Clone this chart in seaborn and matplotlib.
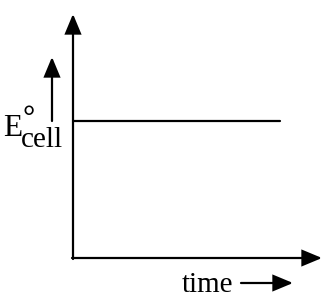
import matplotlib
matplotlib.use("Agg")
import matplotlib.pyplot as plt
from matplotlib.patches import FancyArrowPatch
import seaborn as sns
import pandas as pd

# Data: constant E°cell over time
time_vals = [0.0, 8.3]
ecell_vals = [5.6, 5.6]
x_label = "time"
y_label_main = "E"
y_label_sup = "°"
y_label_sub = "cell"

sns.set_theme(style="white")
plt.rcParams['font.family'] = ['Liberation Serif', 'DejaVu Serif']

W, H = 332, 301
fig = plt.figure(figsize=(W / 100, H / 100), dpi=100)
fig.patch.set_facecolor("white")

x0, y0 = 73, 258      # origin pixel
xr, yt = 322, 14      # arrow tips
ax = fig.add_axes([x0 / W, 1 - y0 / H, (xr - x0) / W, (y0 - yt) / H])
ax.set_xlim(0, 10)
ax.set_ylim(0, 10)
ax.set_facecolor("white")
for s in ax.spines.values():
    s.set_visible(False)

df = pd.DataFrame({"time": time_vals, "E": ecell_vals})
sns.lineplot(data=df, x="time", y="E", ax=ax, color="black", linewidth=1.6)
ax.set_xticks([])
ax.set_yticks([])
ax.set_xlabel("")
ax.set_ylabel("")

STYLE = "-|>,head_length=0.6,head_width=0.25"


def fx(px):
    return px / W


def fy(py):
    return 1 - py / H


def arrow(p0, p1):
    fig.add_artist(FancyArrowPatch(
        (fx(p0[0]), fy(p0[1])), (fx(p1[0]), fy(p1[1])), transform=fig.transFigure,
        arrowstyle=STYLE, color="black", lw=1.6, mutation_scale=20,
        shrinkA=0, shrinkB=0, joinstyle="miter"))


# axes arrows
arrow((x0, y0 + 1), (x0, yt))
arrow((x0 - 1, y0), (xr, y0))
# label arrows
arrow((52, 121), (52, 57))
arrow((241, 283), (293, 283))

fs = 21
fig.text(fx(3), fy(136), y_label_main, fontsize=22.5, va="baseline", ha="left", color="black")
fig.text(fx(22.5), fy(127), y_label_sup, fontsize=22, fontweight="bold",
         va="baseline", ha="left", color="black")
fig.text(fx(21), fy(147), y_label_sub, fontsize=fs, va="baseline", ha="left", color="black")
fig.text(fx(182), fy(292), x_label, fontsize=fs, va="baseline", ha="left", color="black")

fig.savefig("out.png", dpi=100, facecolor="white")
